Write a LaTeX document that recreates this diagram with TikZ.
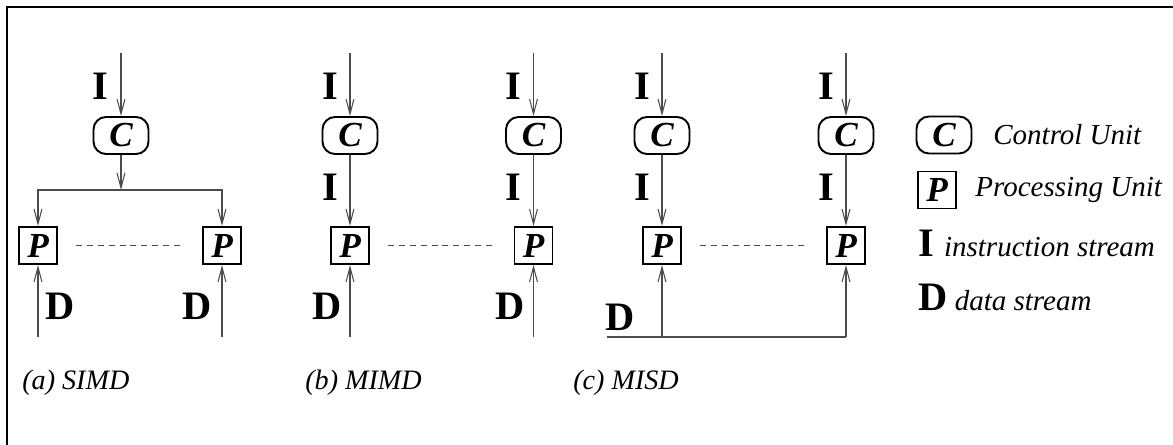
\documentclass[tikz,border=0pt]{standalone}
\usepackage{fontspec}
\setmainfont{Liberation Serif}
\usetikzlibrary{arrows.meta}
\tikzset{
 cunit/.style={rectangle,rounded corners=0.25cm,draw,line width=1.1pt,minimum width=1.1cm,minimum height=0.74cm,inner sep=0pt,font=\fontsize{20}{20}\selectfont\bfseries\itshape},
 punit/.style={rectangle,draw,line width=1.1pt,minimum width=0.76cm,minimum height=0.74cm,inner sep=0pt,font=\fontsize{20}{20}\selectfont\bfseries\itshape},
 stream/.style={inner sep=0pt,font=\fontsize{23}{23}\selectfont\bfseries},
 flow/.style={draw=black!70,line width=0.6pt,-{Straight Barb[length=8.5pt,width=4.5pt]}},
 wire/.style={draw=black!70,line width=0.6pt},
 gapline/.style={draw=black!70,line width=0.6pt,dash pattern=on 3.4pt off 2.8pt,shorten >=0.36cm,shorten <=0.36cm},
 figcap/.style={anchor=west,inner sep=0pt,font=\fontsize{16}{16}\selectfont\itshape},
 keytext/.style={anchor=west,inner sep=0pt,font=\fontsize{16.5}{17}\selectfont\itshape},
}
\begin{document}
\begin{tikzpicture}
\useasboundingbox (0,0) rectangle (23.46,-8.9);
\draw[line width=1.6pt] (0.14,-8.9) -- (0.14,-0.14) -- (23.46,-0.14);

% (a) SIMD
 \coordinate (t1) at (2.42,-1.06);
 \node at (2.42,-2.71) [cunit] (c1) {C};
 \coordinate (s1) at (2.42,-3.8);
 \node at (0.76,-4.91) [punit] (p1) {P};
 \node at (4.44,-4.91) [punit] (p2) {P};
 \coordinate (b1) at (0.76,-6.74);
 \coordinate (b2) at (4.44,-6.74);
 \node at (2.0,-1.72) [stream] (i1) {I};
 \node at (1.2,-6.12) [stream] (d1) {D};
 \node at (3.94,-6.12) [stream] (d2) {D};

 \draw[flow] (t1)--(c1);
 \draw[flow] (c1)--(s1);
 \draw[flow] (s1) -| (p1);
 \draw[flow] (s1) -| (p2);
 \draw[gapline] (p1)--(p2);
 \draw[flow] (b1)--(p1);
 \draw[flow] (b2)--(p2);

% (b) MIMD
\begin{scope}[xshift={7cm}]
 \coordinate (mt1) at (0,-1.06);
 \coordinate (mt2) at (3.67,-1.06);
 \node at (0,-2.71) [cunit] (mc1) {C};
 \node at (3.67,-2.71) [cunit] (mc2) {C};
 \node at (0,-4.91) [punit] (mp1) {P};
 \node at (3.67,-4.91) [punit] (mp2) {P};
 \coordinate (mb1) at (0,-6.74);
 \coordinate (mb2) at (3.67,-6.74);
 \node at (-0.4,-1.72) [stream] (mi1) {I};
 \node at (3.27,-1.72) [stream] (mi2) {I};
 \node at (-0.4,-3.74) [stream] (mi3) {I};
 \node at (3.27,-3.74) [stream] (mi4) {I};
 \node at (-0.46,-6.12) [stream] (md1) {D};
 \node at (3.21,-6.12) [stream] (md2) {D};

 \draw[flow] (mt1)--(mc1);\draw[flow] (mc1)--(mp1);\draw[flow] (mb1)--(mp1);
 \draw[flow] (mt2)--(mc2);\draw[flow] (mc2)--(mp2);\draw[flow] (mb2)--(mp2);
 \draw[gapline] (mp1)--(mp2);
\end{scope}

% (c) MISD
\begin{scope}[xshift={13.24cm}]
 \coordinate (xt1) at (0,-1.06);
 \coordinate (xt2) at (3.68,-1.06);
 \node at (0,-2.71) [cunit] (xc1) {C};
 \node at (3.68,-2.71) [cunit] (xc2) {C};
 \node at (0,-4.91) [punit] (xp1) {P};
 \node at (3.68,-4.91) [punit] (xp2) {P};
 \coordinate (xb0) at (-1.1,-6.74);
 \coordinate (xb1) at (0,-6.74);
 \coordinate (xb2) at (3.68,-6.74);
 \node at (-0.4,-1.72) [stream] (xi1) {I};
 \node at (3.28,-1.72) [stream] (xi2) {I};
 \node at (-0.4,-3.74) [stream] (xi3) {I};
 \node at (3.28,-3.74) [stream] (xi4) {I};
 \node at (-0.84,-6.34) [stream] (xd) {D};

 \draw[flow] (xt1)--(xc1);\draw[flow] (xc1)--(xp1);\draw[flow] (xb1)--(xp1);
 \draw[flow] (xt2)--(xc2);\draw[flow] (xc2)--(xp2);\draw[flow] (xb2)--(xp2);
 \draw[wire] (xb0)--(xb2);
 \draw[gapline] (xp1)--(xp2);
\end{scope}

% key
 \node at (18.88,-2.7) [cunit] (kc) {C};
 \node at (19.86,-2.7) [keytext] (kct) {Control Unit};
 \node at (18.74,-3.8) [punit] (kp) {P};
 \node at (19.5,-3.8) [keytext] (kpt) {Processing Unit};
 \node at (18.36,-4.86) [keytext] (ki) {{\upshape\bfseries\fontsize{23}{23}\selectfont I}\hspace{0.2cm}instruction stream};
 \node at (18.36,-5.94) [keytext] (kd) {{\upshape\bfseries\fontsize{23}{23}\selectfont D} data stream};

% captions
 \node at (0.44,-7.66) [figcap] (capa) {(a) SIMD};
 \node at (6.1,-7.66) [figcap] (capb) {(b) MIMD};
 \node at (11.46,-7.66) [figcap] (capc) {(c) MISD};
\end{tikzpicture}
\end{document}
